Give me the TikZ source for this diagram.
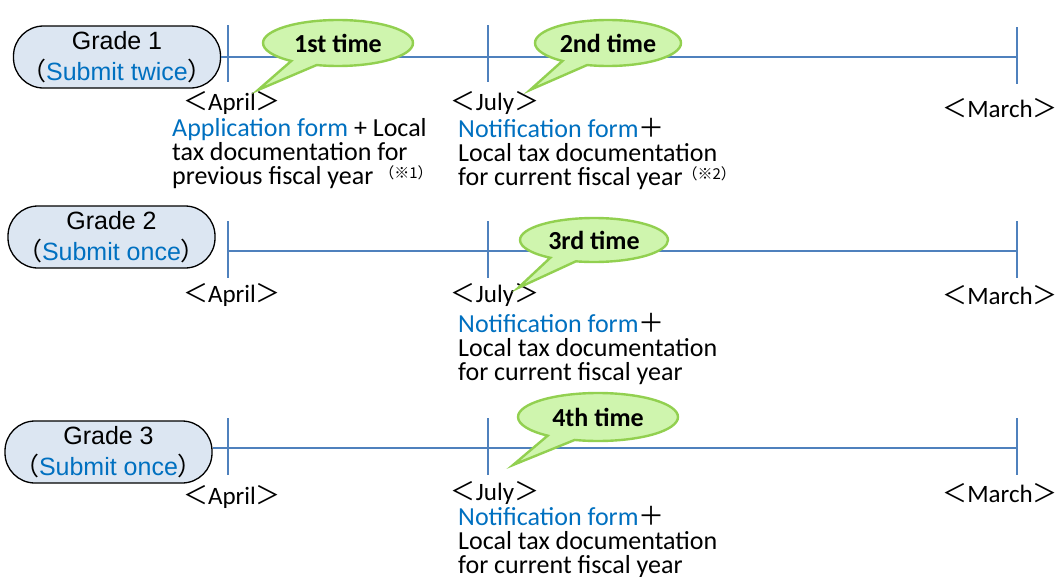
\documentclass[tikz,border=0pt]{standalone}
\usepackage{fontspec}
\setmainfont{Carlito}
\newfontfamily\arialfont{Liberation Sans}
\newfontfamily\cjk{Noto Sans CJK JP}
\usetikzlibrary{shapes.callouts}

\definecolor{LineBlue}{HTML}{4F81BD}
\definecolor{TextBlue}{HTML}{0070C0}
\definecolor{BoxBlue}{HTML}{DCE6F2}
\definecolor{BubbleFill}{HTML}{CFF5AE}
\definecolor{BubbleEdge}{HTML}{92D050}

\newcommand{\mon}[1]{{\cjk ＜}#1{\cjk ＞}}
\newcommand{\plusj}{{\cjk ＋}}
\newcommand{\note}[1]{\raisebox{0.22em}{\fontsize{15}{15}\selectfont\cjk （※#1）}}

\tikzset{
    grade/.style={draw=black, line width=1.3pt, fill=BoxBlue, rounded corners=30pt,
        minimum width=207pt, minimum height=62pt, inner sep=0pt, align=center,
        font=\arialfont\fontsize{25}{31}\selectfont},
    timeline/.style={draw=LineBlue, line width=1.3pt},
    month/.style={inner sep=0pt, font=\fontsize{25}{24}\selectfont},
    detail/.style={inner sep=0pt, anchor=north west, align=left,
        font=\fontsize{26}{24}\selectfont},
    bubble/.style={ellipse callout, draw=BubbleEdge, fill=BubbleFill, line width=2.4pt,
        minimum width=150pt, minimum height=46pt, inner sep=0pt, callout pointer arc=22,
        font=\bfseries\fontsize{26}{26}\selectfont}
}

\begin{document}
\begin{tikzpicture}[x=1pt, y=-1pt]
    \useasboundingbox (0,0) rectangle (1059,576);
    % timeline points
    \coordinate (a1) at (228,55);  \coordinate (j1) at (488,55);  \coordinate (m1) at (1017,57);
    \coordinate (a2) at (228,251); \coordinate (j2) at (488,251); \coordinate (m2) at (1017,251);
    \coordinate (a3) at (228,448); \coordinate (j3) at (488,448); \coordinate (m3) at (1017,448);

    % grade boxes
    \node[grade] (g1) at (117,57)   {Grade 1\\{\cjk （}\textcolor{TextBlue}{Submit twice}{\cjk ）}};
    \node[grade] (g2) at (111.5,237) {Grade 2\\{\cjk （}\textcolor{TextBlue}{Submit once}{\cjk ）}};
    \node[grade] (g3) at (108.5,452) {Grade 3\\{\cjk （}\textcolor{TextBlue}{Submit once}{\cjk ）}};

    % timelines
    \draw[timeline] (g1.east) -- (m1);
    \draw[timeline] (a2) -- (m2);
    \draw[timeline] (g3.east |- a3) -- (m3);
    \foreach \p in {a1,j1,m1,a2,j2,m2,a3,j3,m3}{
        \draw[timeline] (\p) ++(0,-30) -- ++(0,57);
    }

    % months
    \foreach \r/\ya/\yj/\ym in {1/103/103/108, 2/295/295/295, 3/497/493/493}{
        \node[month] (apr\r) at (232,\ya)  {\mon{April}};
        \node[month] (jul\r) at (495,\yj)  {\mon{July}};
        \node[month] (mar\r) at (1000,\ym) {\mon{March}};
    }

    % documents
    \node[detail] (doc1) at (172,118) {\textcolor{TextBlue}{Application form} + Local\\tax documentation for\\previous fiscal year \note{1}};
    \node[detail] (doc2) at (458,118) {\textcolor{TextBlue}{Notification form}\plusj\\Local tax documentation\\for current fiscal year\note{2}};
    \node[detail] (doc3) at (458,313) {\textcolor{TextBlue}{Notification form}\plusj\\Local tax documentation\\for current fiscal year};
    \node[detail] (doc4) at (458,506) {\textcolor{TextBlue}{Notification form}\plusj\\Local tax documentation\\for current fiscal year};

    % bubbles
    \node[bubble, callout absolute pointer={(258,90)}] (b1) at (338,43) {1st time};
    \node[bubble, callout absolute pointer={(530,90)}, minimum width=146pt] (b2) at (608,43) {2nd time};
    \node[bubble, callout absolute pointer={(518,288)}, minimum width=148pt, minimum height=44pt] (b3) at (594,240) {3rd time};
    \node[bubble, callout absolute pointer={(513,465)}, minimum width=160pt, minimum height=48pt] (b4) at (598,417) {4th time};
\end{tikzpicture}
\end{document}
